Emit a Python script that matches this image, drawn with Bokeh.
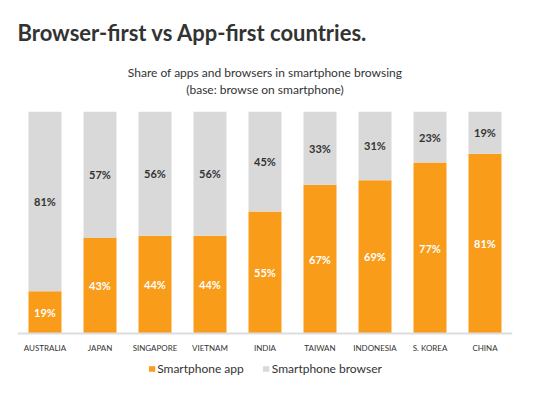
from bokeh.plotting import figure
from bokeh.models import ColumnDataSource, Title, Legend, LegendItem
from bokeh.core.properties import value
from bokeh.embed import file_html
from bokeh.resources import INLINE

countries = ["AUSTRALIA", "JAPAN", "SINGAPORE", "VIETNAM", "INDIA", "TAIWAN", "INDONESIA", "S. KOREA", "CHINA"]
app = [19, 43, 44, 44, 55, 67, 69, 77, 81]
browser = [81, 57, 56, 56, 45, 33, 31, 23, 19]

ORANGE = "#F99C1A"
GREY = "#D9D9D9"
FONT = "Lato"

src = ColumnDataSource(dict(
    country=countries,
    app=app,
    browser=browser,
    app_mid=[a / 2 for a in app],
    br_mid=[a + b / 2 for a, b in zip(app, browser)],
    app_lbl=[f"{a}%" for a in app],
    br_lbl=[f"{b}%" for b in browser],
))

p = figure(x_range=countries, y_range=(-20.7, 100), frame_width=495, frame_height=268,
           output_backend="svg", toolbar_location=None,
           min_border_left=17, min_border_right=22, min_border_bottom=2, min_border_top=4,
           title="Browser-first vs App-first countries.")
p.title.align = "left"
p.title.text_font = FONT
p.title.text_font_style = "bold"
p.title.text_font_size = "22px"
p.title.text_color = "#333333"
p.title.offset = 0
p.title.standoff = 33

spacer = Title(text=" ", align="center", standoff=11, text_font=FONT, text_font_size="2px")
p.add_layout(spacer, "above")
t3 = Title(text="(base: browse on smartphone)", align="center", standoff=0, offset=-9,
           text_font=FONT, text_font_style="normal", text_font_size="12px", text_color="#333333")
p.add_layout(t3, "above")
t2 = Title(text="Share of apps and browsers in smartphone browsing", align="center", standoff=0,
           offset=-9,
           text_font=FONT, text_font_style="normal", text_font_size="12px", text_color="#333333")
p.add_layout(t2, "above")

rs = p.vbar_stack(["app", "browser"], x="country", width=0.6, source=src,
                  color=[ORANGE, GREY], line_color=None)

p.text(x="country", y="app_mid", text="app_lbl", source=src, text_align="center",
       text_baseline="middle", text_color="white", text_font=value(FONT),
       text_font_style="bold", text_font_size="11px")
p.text(x="country", y="br_mid", text="br_lbl", source=src, text_align="center",
       text_baseline="middle", text_color="#333333", text_font=value(FONT),
       text_font_style="bold", text_font_size="11px")

p.yaxis.visible = False
p.xgrid.visible = False
p.ygrid.visible = False
p.outline_line_color = None
p.xaxis.fixed_location = 0
p.xaxis.axis_line_color = "#DDDDDD"
p.xaxis.axis_line_width = 2
p.xaxis.major_tick_line_color = None
p.xaxis.minor_tick_line_color = None
p.xaxis.major_label_text_font = FONT
p.xaxis.major_label_text_font_size = "8px"
p.xaxis.major_label_text_color = "#333333"
p.xaxis.major_label_standoff = 3
p.x_range.range_padding = 0

legend = Legend(items=[LegendItem(label="Smartphone app", renderers=[rs[0]]),
                       LegendItem(label="Smartphone browser", renderers=[rs[1]])],
                orientation="horizontal", location="bottom_center",
                label_text_font=FONT, label_text_font_size="12px", label_text_color="#333333",
                glyph_width=8, glyph_height=7, label_height=12, label_standoff=2, spacing=18,
                border_line_color=None, background_fill_alpha=0, margin=3, padding=2)
p.add_layout(legend, "center")

open("out.html", "w").write(file_html(p, INLINE))
